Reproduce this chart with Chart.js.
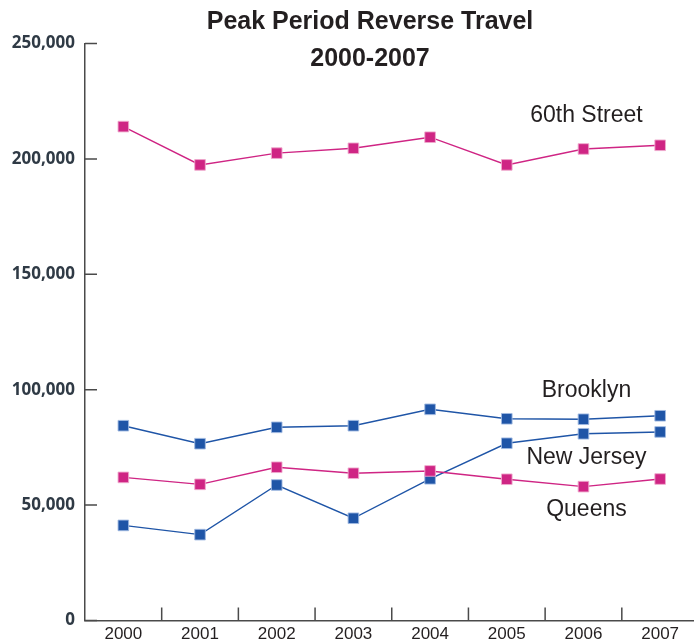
<!DOCTYPE html>
<html>
<head>
<meta charset="utf-8">
<script src="https://cdn.jsdelivr.net/npm/chart.js@4.4.1/dist/chart.umd.min.js"></script>
<style>
  html, body { margin: 0; padding: 0; background: #fff; overflow: hidden; }
  #wrap { width: 694px; height: 643px; overflow: hidden; position: relative; }
  canvas { display: block; }
</style>
</head>
<body>
<div id="wrap"><canvas id="chart" width="707" height="643"></canvas></div>
<script>
// data
const years = ['2000', '2001', '2002', '2003', '2004', '2005', '2006', '2007'];
const sixtiethStreet = [214000, 197400, 202500, 204600, 209400, 197400, 204300, 205900];
const brooklyn = [84400, 76600, 83700, 84400, 91500, 87400, 87200, 88700];
const newJersey = [62000, 59000, 66400, 63800, 64800, 61200, 58000, 61300];
const queens = [41200, 37200, 58700, 44300, 61400, 76800, 80900, 81700];
const yTicks = [0, 50000, 100000, 150000, 200000, 250000];

// series name tags, placed by value on the chart
const tagNames = ['60th Street', 'Brooklyn', 'New Jersey', 'Queens'];
const tagValues = [218600, 99700, 70600, 47900];

const magenta = '#cf2584';
const blue = '#1f55a7';

function series(label, data, color, halo) {
  return {
    label: label,
    data: data,
    borderColor: color,
    borderWidth: 1.4,
    backgroundColor: color,
    pointStyle: 'rect',
    pointRadius: 7.5,
    pointHoverRadius: 7.5,
    pointBorderColor: halo,
    pointBorderWidth: 1,
    tension: 0
  };
}

// title, inner tick marks and the series tags
const extras = {
  id: 'extras',
  afterDraw(chart) {
    const ctx = chart.ctx;
    const x = chart.scales.x;
    const y = chart.scales.y;
    const area = chart.chartArea;

    ctx.save();
    ctx.strokeStyle = '#4a4a4a';
    ctx.lineWidth = 1.5;
    ctx.beginPath();
    yTicks.forEach(v => {
      const py = y.getPixelForValue(v);
      ctx.moveTo(area.left, py);
      ctx.lineTo(area.left + 12, py);
    });
    for (let i = 0; i < years.length - 1; i++) {
      const px = (x.getPixelForValue(i) + x.getPixelForValue(i + 1)) / 2;
      ctx.moveTo(px, area.bottom);
      ctx.lineTo(px, area.bottom - 13);
    }
    ctx.stroke();

    ctx.fillStyle = '#231f20';
    ctx.textAlign = 'center';
    ctx.textBaseline = 'middle';
    ctx.font = 'bold 25px "Liberation Sans", Arial, sans-serif';
    ctx.fillText('Peak Period Reverse Travel', 370, 22);
    ctx.fillText('2000-2007', 370, 59);

    ctx.font = '23px "Liberation Sans", Arial, sans-serif';
    const tx = x.getPixelForValue(6);
    tagNames.forEach((name, i) => {
      ctx.fillText(name, tx + 3, y.getPixelForValue(tagValues[i]));
    });
    ctx.restore();
  }
};

new Chart(document.querySelector('#chart'), {
  type: 'line',
  data: {
    labels: years,
    datasets: [
      series('60th Street', sixtiethStreet, magenta, 'rgba(240,170,205,0.9)'),
      series('Brooklyn', brooklyn, blue, 'rgba(160,185,225,0.9)'),
      series('New Jersey', newJersey, magenta, 'rgba(240,170,205,0.9)'),
      series('Queens', queens, blue, 'rgba(160,185,225,0.9)')
    ]
  },
  options: {
    responsive: false,
    animation: false,
    layout: { padding: { top: 43.5, right: 1, left: 0, bottom: 0 } },
    plugins: {
      legend: { display: false },
      title: { display: false },
      tooltip: { enabled: false }
    },
    scales: {
      x: {
        offset: true,
        grid: { display: false, drawTicks: false, offset: true },
        border: { display: true, color: '#4a4a4a', width: 1.5 },
        ticks: {
          color: '#231f20',
          padding: 4,
          maxRotation: 0,
          font: { family: '"Liberation Sans", Arial, sans-serif', size: 17 }
        },
        afterFit(scale) { scale.height = 22.5; }
      },
      y: {
        min: 0,
        max: 250000,
        grid: { display: false, drawTicks: false },
        border: { display: true, color: '#4a4a4a', width: 1.5 },
        ticks: {
          stepSize: 50000,
          padding: 10,
          color: '#2f3a45',
          font: { family: '"Open Sans", sans-serif', size: 17, weight: 'bold' },
          callback: v => v.toLocaleString('en-US')
        },
        afterFit(scale) { scale.width = 85; }
      }
    }
  },
  plugins: [extras]
});
</script>
</body>
</html>
